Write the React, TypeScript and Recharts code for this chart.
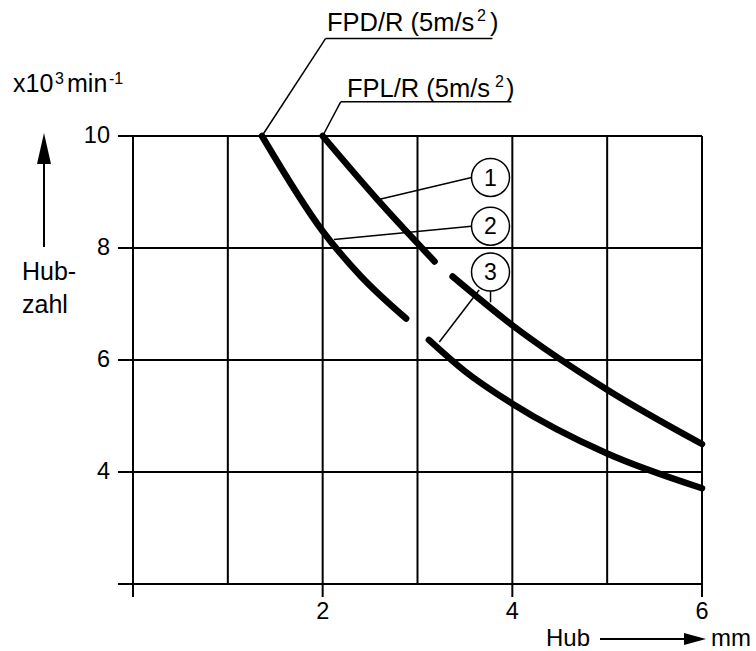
import { LineChart, Line, XAxis, YAxis, CartesianGrid, ReferenceLine, ReferenceDot } from "recharts";

const FONT = "'Liberation Sans', Arial, sans-serif";

// axes
const hubTicks = [0, 1, 2, 3, 4, 5, 6];
const hubLabelTicks = [2, 4, 6];
const rateTicks = [2, 4, 6, 8, 10];
const rateLabelTicks = [4, 6, 8, 10];

// FPD/R curve (lower), null = break in the curve
const fpdHub = [1.36, 2.0, 2.4, 2.88, 3.0, 3.12, 3.5, 4.0, 5.0, 6.0];
const fpdRate = [10, 8.3, 7.5, 6.74, null, 6.36, 5.8, 5.22, 4.33, 3.71];

// FPL/R curve (upper)
const fplHub = [2.0, 2.58, 3.18, 3.28, 3.37, 4.0, 5.0, 6.0];
const fplRate = [10, 8.86, 7.76, null, 7.49, 6.62, 5.47, 4.5];

// callouts 1..3
const calloutNames = ["1", "2", "3"];
const calloutHub = [3.77, 3.77, 3.77];
const calloutRate = [9.26, 8.39, 7.57];

// leader lines [x1, y1, x2, y2]
const leaders: number[][] = [
  [1.36, 10, 2.03, 11.74],
  [2.03, 11.74, 3.79, 11.74],
  [2.0, 10, 2.19, 10.61],
  [2.19, 10.61, 3.99, 10.61],
  [3.57, 9.26, 2.58, 8.86],
  [3.57, 8.39, 2.12, 8.15],
  [3.65, 7.25, 3.23, 6.32],
  [3.77, 7.23, 3.77, 7.03],
];

const fpdData = fpdHub.map((hub, i) => ({ hub, rate: fpdRate[i] }));
const fplData = fplHub.map((hub, i) => ({ hub, rate: fplRate[i] }));

function HubTick(props: any) {
  const { x, y, payload } = props;
  const v = payload.value;
  if (v % 2 !== 0) return <g />;
  return (
    <g>
      <line x1={x} x2={x} y1={y} y2={y + 13} stroke="#000" strokeWidth={2} />
      {hubLabelTicks.includes(v) && (
        <text x={x} y={y + 35} textAnchor="middle" fontSize={23.5} fontFamily={FONT} fill="#000">
          {v}
        </text>
      )}
    </g>
  );
}

function RateTick(props: any) {
  const { x, y, payload } = props;
  const v = payload.value;
  return (
    <g>
      <line x1={x - 15} x2={x} y1={y} y2={y} stroke="#000" strokeWidth={2} />
      {rateLabelTicks.includes(v) && (
        <text x={x - 23} y={y + 7} textAnchor="end" fontSize={23.5} fontFamily={FONT} fill="#000">
          {v}
        </text>
      )}
    </g>
  );
}

export default function App() {
  return (
    <div style={{ position: "absolute", left: 0, top: 0, width: 756, height: 651, background: "#fff" }}>
      <LineChart width={756} height={651} margin={{ top: 136, right: 54, bottom: 37, left: 73 }}>
        <CartesianGrid stroke="#000" strokeWidth={2} />
        <XAxis
          dataKey="hub"
          type="number"
          domain={[0, 6]}
          ticks={hubTicks}
          height={30}
          tickSize={0}
          tickMargin={0}
          tickLine={false}
          tick={<HubTick />}
          axisLine={{ stroke: "#000", strokeWidth: 2 }}
        />
        <YAxis
          type="number"
          domain={[2, 10]}
          ticks={rateTicks}
          width={60}
          tickSize={0}
          tickMargin={0}
          tickLine={false}
          tick={<RateTick />}
          axisLine={{ stroke: "#000", strokeWidth: 2 }}
        />
        {leaders.map((l, i) => (
          <ReferenceLine
            key={i}
            segment={[
              { x: l[0], y: l[1] },
              { x: l[2], y: l[3] },
            ]}
            stroke="#000"
            strokeWidth={1.5}
            ifOverflow="visible"
          />
        ))}
        <Line
          data={fpdData}
          dataKey="rate"
          type="monotone"
          stroke="#000"
          strokeWidth={6.5}
          strokeLinecap="round"
          dot={false}
          activeDot={false}
          connectNulls={false}
          isAnimationActive={false}
        />
        <Line
          data={fplData}
          dataKey="rate"
          type="monotone"
          stroke="#000"
          strokeWidth={6.5}
          strokeLinecap="round"
          dot={false}
          activeDot={false}
          connectNulls={false}
          isAnimationActive={false}
        />
        {calloutNames.map((n, i) => (
          <ReferenceDot
            key={n}
            x={calloutHub[i]}
            y={calloutRate[i]}
            r={19}
            fill="#fff"
            stroke="#000"
            strokeWidth={1.5}
            label={{ value: n, position: "center", fontSize: 23, fill: "#000", fontFamily: FONT }}
          />
        ))}
      </LineChart>
      <svg
        width={756}
        height={651}
        style={{ position: "absolute", left: 0, top: 0, pointerEvents: "none" }}
        fontFamily={FONT}
        fill="#000"
      >
        <text x={327} y={31} fontSize={25.5}>
          FPD/R (5m/s
          <tspan x={477} dy={-10} fontSize={16}>2</tspan>
          <tspan x={490} dy={10}>)</tspan>
        </text>
        <text x={347} y={97} fontSize={25.5}>
          FPL/R (5m/s
          <tspan x={495} dy={-10} fontSize={16}>2</tspan>
          <tspan x={506} dy={10}>)</tspan>
        </text>
        <text x={13} y={92} fontSize={25}>
          x10
          <tspan x={55} dy={-8} fontSize={16}>3</tspan>
          <tspan x={67} dy={8}>min</tspan>
          <tspan x={109} dy={-8} fontSize={16}>-1</tspan>
        </text>
        <line x1={44} x2={44} y1={247} y2={160} stroke="#000" strokeWidth={2} />
        <polygon points="37,164 44,133 51,164" fill="#000" />
        <text x={22} y={280} fontSize={25}>Hub-</text>
        <text x={22} y={313} fontSize={25}>zahl</text>
        <text x={546} y={646} fontSize={24}>Hub</text>
        <line x1={600} x2={686} y1={639} y2={639} stroke="#000" strokeWidth={2} />
        <polygon points="684,633 706,639 684,645" fill="#000" />
        <text x={711} y={646} fontSize={24}>mm</text>
      </svg>
    </div>
  );
}
